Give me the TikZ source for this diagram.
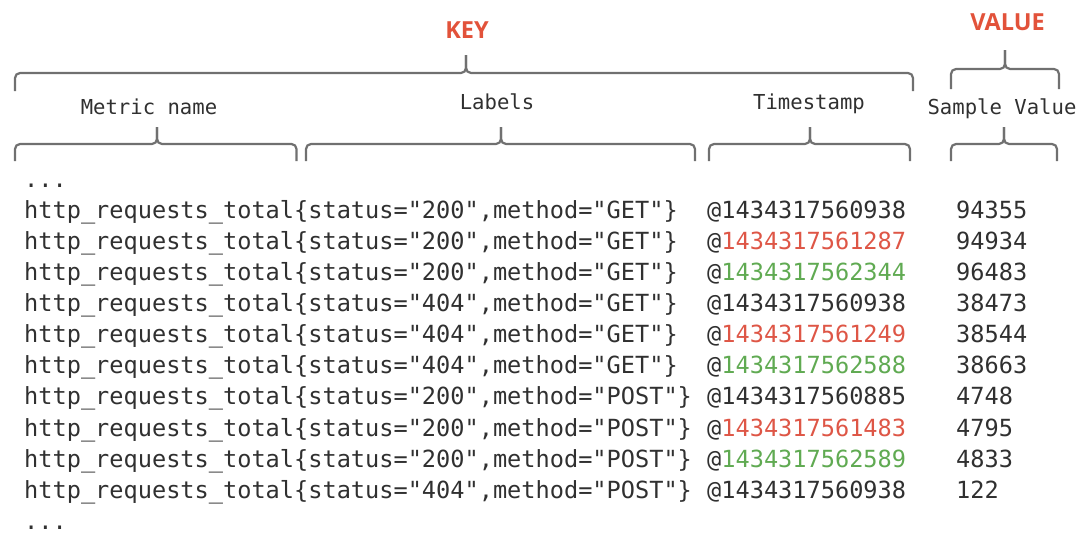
\documentclass[tikz,border=0pt]{standalone}
\usepackage{fontspec}
\setmainfont{Open Sans}
\setmonofont{DejaVu Sans Mono}

\definecolor{txt}{RGB}{48,48,48}
\definecolor{keyred}{RGB}{226,82,58}
\definecolor{tsred}{RGB}{222,86,70}
\definecolor{tsgreen}{RGB}{96,170,82}
\definecolor{bracegray}{RGB}{112,112,112}

\tikzset{
  row/.style={anchor=base west, inner sep=0pt, text=txt,
    font=\ttfamily\fontsize{23.6}{28}\selectfont},
  head/.style={anchor=base, inner sep=0pt, text=txt,
    font=\ttfamily\fontsize{20.6}{24}\selectfont},
  big/.style={anchor=base, inner sep=0pt, text=keyred,
    font=\bfseries\fontsize{23.5}{26}\selectfont},
  bracepath/.style={draw=bracegray, line width=2.2pt, rounded corners=5pt}
}

% left x, right x, tip x, ends y, bar y, tip y
\newcommand{\drawbrace}[6]{%
  \draw[bracepath] (#1,#4) -- (#1,#5) -- (#3,#5) -- (#3,#6);
  \draw[bracepath] (#2,#4) -- (#2,#5) -- (#3,#5) -- (#3,#6);
}

\begin{document}
\begin{tikzpicture}[x=1pt, y=-1pt]
    \useasboundingbox (0,0) rectangle (1080,541);

    % top level
    \node[big] (key) at (467,38.3) {KEY};
    \node[big] (value) at (1007.5,30.7) {VALUE};
    \drawbrace{15}{913}{466}{91}{73}{55}
    \drawbrace{951}{1059}{1005}{89}{69}{50}

    % second level
    \node[head] (metric) at (149,114) {Metric name};
    \node[head] (labels) at (497,109) {Labels};
    \node[head] (stamp) at (809,109) {Timestamp};
    \node[head] (sample) at (1002,114) {Sample Value};
    \drawbrace{15}{296.5}{157}{161}{144}{127}
    \drawbrace{306}{695}{501}{161}{144}{127}
    \drawbrace{709}{910}{810}{161}{144}{127}
    \drawbrace{951}{1057}{1004}{161}{144}{127}

    % samples
    \node[row] (dotstop) at (24,187.2) {...};
    \foreach \i/\st/\me/\ts/\tc/\va in {
        1/200/GET/1434317560938/txt/94355,
        2/200/GET/1434317561287/tsred/94934,
        3/200/GET/1434317562344/tsgreen/96483,
        4/404/GET/1434317560938/txt/38473,
        5/404/GET/1434317561249/tsred/38544,
        6/404/GET/1434317562588/tsgreen/38663,
        7/200/POST/1434317560885/txt/4748,
        8/200/POST/1434317561483/tsred/4795,
        9/200/POST/1434317562589/tsgreen/4833,
        10/404/POST/1434317560938/txt/122}{
      \node[row] (row\i) at (24,{218.3+31.1*(\i-1)})
        {http\_requests\_total\{status="\st",method="\me"\}};
      \node[row] (ts\i) at (707,{218.3+31.1*(\i-1)}) {@{\color{\tc}\ts}};
      \node[row] (val\i) at (956,{218.3+31.1*(\i-1)}) {\va};
    }
    \node[row] (dotsbot) at (24,529.4) {...};
\end{tikzpicture}
\end{document}
